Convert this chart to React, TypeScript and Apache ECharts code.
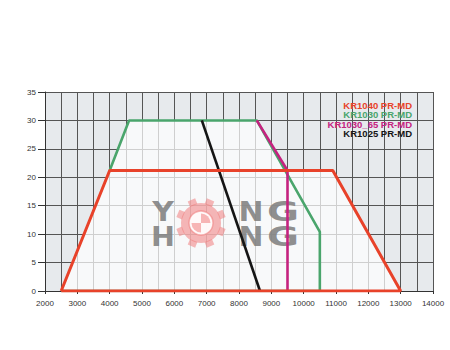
import React, { useEffect, useRef } from "react";
import * as echarts from "echarts";

const seriesNames = ["KR1040 PR-MD", "KR1030 PR-MD", "KR1030_65 PR-MD", "KR1025 PR-MD"];
const seriesColors = ["#e8422a", "#4aa56c", "#c5227f", "#151515"];

// [output kW, pressure mbar]
const kr1040: [number, number][] = [[2500, 0], [4000, 21.2], [10900, 21.2], [13000, 0], [2500, 0]];
const kr1030: [number, number][] = [[4000, 21.2], [4600, 30], [8550, 30], [10500, 10.4], [10500, 0], [2500, 0]];
const kr1030_65: [number, number][] = [[8550, 30], [9500, 21.2], [9500, 0]];
const kr1025: [number, number][] = [[6850, 30], [8650, 0]];
// union of the working envelopes (lighter area)
const envelope: [number, number][] = [[2500, 0], [4000, 21.2], [4600, 30], [8550, 30], [9425, 21.2], [10900, 21.2], [13000, 0]];

const xTicks = { min: 2000, max: 14000, interval: 1000 };
const yTicks = { min: 0, max: 35, interval: 5 };

export default function App() {
  const ref = useRef<HTMLDivElement>(null);
  useEffect(() => {
    if (!ref.current) return;
    const chart = echarts.init(ref.current, undefined, { renderer: "svg" });
    const font = "Liberation Sans, Arial, sans-serif";
    const pink = "rgba(240,125,125,0.55)";
    const WZ = 4;
    const teeth: any[] = [];
    for (let k = 0; k < 8; k++) {
      teeth.push({
        type: "group",
        x: 201,
        y: 223,
        z: WZ,
        rotation: (k * Math.PI) / 4 + Math.PI / 8,
        children: [{ type: "rect", z: WZ, shape: { x: -4, y: -25, width: 8, height: 6 }, style: { fill: pink } }],
      });
    }
    const letter = (t: string, x: number, y: number, sx: number) => ({
      type: "text",
      z: WZ,
      x,
      y,
      scaleX: sx,
      style: {
        text: t,
        font: "bold 26px 'DejaVu Sans', sans-serif",
        fill: "rgba(128,128,128,0.88)",
        align: "center",
        verticalAlign: "middle",
      },
    });
    const legendYs = [105, 114.5, 124, 133.5];
    chart.setOption({
      animation: false,
      backgroundColor: "#ffffff",
      grid: {
        left: 45,
        right: 17,
        top: 92,
        bottom: 59,
        show: true,
        backgroundColor: "#e7eaed",
        borderWidth: 0,
      },
      xAxis: {
        type: "value",
        min: xTicks.min,
        max: xTicks.max,
        interval: xTicks.interval,
        axisLine: { show: true, onZero: false, lineStyle: { color: "#333", width: 1 } },
        axisTick: { show: true, length: 3, lineStyle: { color: "#333" } },
        axisLabel: { color: "#333", fontSize: 8, fontFamily: font, margin: 8, formatter: (v: number) => String(v) },
        splitLine: { show: true, lineStyle: { color: "#555", width: 1 } },
        minorTick: { show: false, splitNumber: 2 },
        minorSplitLine: { show: true, lineStyle: { color: "#555", width: 1 } },
      },
      yAxis: {
        type: "value",
        min: yTicks.min,
        max: yTicks.max,
        interval: yTicks.interval,
        axisLine: { show: true, lineStyle: { color: "#333", width: 1 } },
        axisTick: { show: true, length: 7, lineStyle: { color: "#333" } },
        axisLabel: { color: "#333", fontSize: 8, fontFamily: font, margin: 9 },
        splitLine: { show: true, lineStyle: { color: "#555", width: 1 } },
      },
      graphic: [
        { type: "circle", z: WZ, silent: true, shape: { cx: 201, cy: 223, r: 20 }, style: { fill: pink } },
        ...teeth,
        { type: "circle", z: WZ, silent: true, shape: { cx: 201, cy: 223, r: 12 }, style: { fill: "rgba(255,255,255,0.92)", stroke: pink, lineWidth: 1.5 } },
        { type: "sector", z: WZ, silent: true, shape: { cx: 201, cy: 223, r: 9.5, r0: 0, startAngle: -Math.PI / 2, endAngle: 0 }, style: { fill: pink } },
        { type: "sector", z: WZ, silent: true, shape: { cx: 201, cy: 223, r: 9.5, r0: 0, startAngle: Math.PI / 2, endAngle: Math.PI }, style: { fill: pink } },
        letter("Y", 163, 212, 1.15),
        letter("H", 163, 237, 1.1),
        letter("N", 251, 212, 1.15),
        letter("G", 283, 212, 1.5),
        letter("N", 251, 237, 1.15),
        letter("G", 283, 237, 1.5),
        ...seriesNames.map((n, i) => ({
          type: "text",
          z: 10,
          x: 412,
          y: legendYs[i],
          style: {
            text: n,
            font: `bold 9.5px ${font}`,
            fill: seriesColors[i],
            align: "right",
            verticalAlign: "middle",
          },
        })),
      ],
      series: [
        {
          type: "custom",
          z: 1,
          silent: true,
          data: [envelope[0]],
          renderItem: (_params: any, api: any) => ({
            type: "polygon",
            shape: { points: envelope.map((p) => api.coord(p)) },
            style: { fill: "rgba(255,255,255,0.72)" },
          }),
        },
        ...[kr1030, kr1030_65, kr1025, kr1040].map((d, j) => {
          const idx = [1, 2, 3, 0][j];
          return {
            name: seriesNames[idx],
            type: "line",
            z: 5,
            data: d,
            symbol: "none",
            lineStyle: { color: seriesColors[idx], width: idx === 0 ? 3 : 2.6 },
          };
        }),
      ],
    });
    return () => chart.dispose();
  }, []);
  return <div ref={ref} style={{ position: "fixed", left: 0, top: 0, width: 450, height: 350 }} />;
}
